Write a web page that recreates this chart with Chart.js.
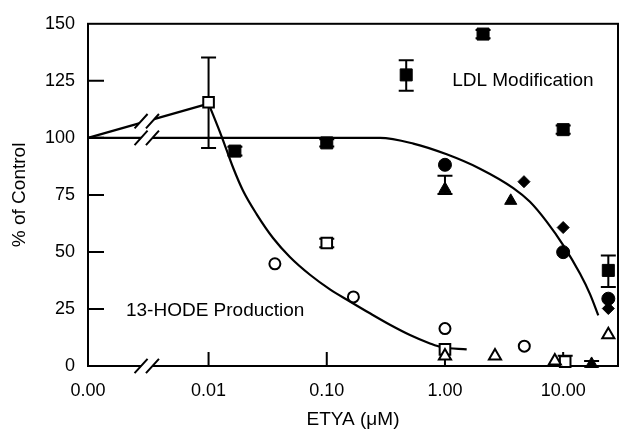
<!DOCTYPE html>
<html>
<head>
<meta charset="utf-8">
<style>
  html, body { margin: 0; padding: 0; background: #fff; }
</style>
<script src="https://cdn.jsdelivr.net/npm/chart.js@4.4.1/dist/chart.umd.min.js"></script>
</head>
<body>
<canvas id="chart" width="620" height="433"></canvas>
<script>
// broken log axis: "0.00" sits at X_ZERO, the // marks at X_BREAK
const X_ZERO = 0.000955;
const X_MAX = 29.1;
const X_BREAK = 0.003;

const xTickValues = [X_ZERO, 0.01, 0.1, 1, 10];
const xTickLabels = ['0.00', '0.01', '0.10', '1.00', '10.00'];
const yTickValues = [0, 25, 50, 75, 100, 125, 150];

// LDL modification (filled symbols)
const ldlSquareX  = [0.0167, 0.1, 0.47, 2.1, 10, 24.1];
const ldlSquareY  = [94.2, 97.8, 127.6, 145.5, 103.6, 41.9];
const ldlSquareLo = [92.3, 96.2, 120.6, 143.7, 101.8, 34.6];
const ldlSquareHi = [96.1, 99.4, 134, 147.3, 105.4, 48.4];
const ldlCircleX  = [1, 10, 24.1];
const ldlCircleY  = [88.2, 49.9, 29.5];
const ldlTriX     = [1, 3.6, 17.4];
const ldlTriY     = [77.6, 72.4, 0.9];
const ldlTriLo    = [75.4, null, -0.3];
const ldlTriHi    = [83.4, null, 2.2];
const ldlDiamondX = [4.66, 10, 24.1];
const ldlDiamondY = [80.8, 60.7, 25.2];

// 13-HODE production (open symbols)
const hodeSquareX  = [0.01, 0.1, 1, 10.4];
const hodeSquareY  = [115.6, 53.9, 7.3, 1.9];
const hodeSquareLo = [95.6, 52, null, null];
const hodeSquareHi = [135.2, 55.8, null, 4.5];
const hodeCircleX  = [0.0364, 0.168, 1, 4.69];
const hodeCircleY  = [44.8, 30.3, 16.4, 8.7];
const hodeTriX     = [1, 2.65, 8.5, 24.1];
const hodeTriY     = [4.4, 4.4, 2.2, 13.7];

// fitted curves
const ldlFitX = [X_ZERO, 0.282, 0.54, 1.034, 1.977, 3.784, 5.236, 7.251, 10, 13.87, 16.87, 19.82];
const ldlFitY = [100, 100, 97.5, 92.8, 86.5, 78, 72, 63.3, 53, 40.5, 31.5, 22.2];
const hodeLinkX = [X_ZERO, 0.01];
const hodeLinkY = [100, 115];
const hodeFitX = [0.01, 0.01288, 0.01614, 0.01963, 0.02547, 0.03524, 0.04875, 0.0721, 0.1064, 0.157, 0.2318, 0.3424, 0.5058, 0.7465, 0.9377, 1.527];
const hodeFitY = [115, 100.7, 86.9, 76.7, 66.6, 56, 47.8, 40, 33.6, 28.3, 23.1, 18.1, 13.6, 9.9, 8.2, 7.3];

const FONT = 'Liberation Sans, Arial, Helvetica, sans-serif';

function pts(xs, ys) {
    return xs.map((x, i) => ({ x: x, y: ys[i] }));
}

function marks(xs, ys, style, radius, filled, extra) {
    return Object.assign({
        data: pts(xs, ys),
        pointStyle: style,
        pointRadius: radius,
        pointBackgroundColor: filled ? '#000' : '#fff',
        pointBorderColor: '#000',
        pointBorderWidth: filled ? 1 : 2,
        showLine: false,
        clip: false,
        order: 0
    }, extra || {});
}

function curve(xs, ys, smooth) {
    return {
        data: pts(xs, ys),
        showLine: true,
        borderColor: '#000',
        borderWidth: 2.2,
        pointRadius: 0,
        cubicInterpolationMode: smooth ? 'monotone' : 'default',
        clip: false,
        order: 1
    };
}

const decorations = {
    id: 'decorations',
    beforeDatasetsDraw(chart) {
        const { ctx, chartArea: a, scales: { x, y } } = chart;
        ctx.save();
        ctx.strokeStyle = '#000';
        ctx.lineWidth = 2;
        ctx.strokeRect(a.left, a.top, a.right - a.left, a.bottom - a.top);

        // tick marks point into the plot
        ctx.beginPath();
        yTickValues.slice(1, -1).forEach(v => {
            const py = y.getPixelForValue(v);
            ctx.moveTo(a.left, py);
            ctx.lineTo(a.left + 16, py);
        });
        xTickValues.slice(1).forEach(v => {
            const px = x.getPixelForValue(v);
            ctx.moveTo(px, a.bottom);
            ctx.lineTo(px, a.bottom - 14);
        });
        ctx.stroke();

        // error bars go under the symbols
        chart.data.datasets.forEach((ds, di) => {
            if (!ds.errLo) return;
            const meta = chart.getDatasetMeta(di);
            ds.errLo.forEach((lo, i) => {
                const hi = ds.errHi[i];
                if (lo == null && hi == null) return;
                const px = meta.data[i].x;
                const w = ds.capWidth / 2;
                ctx.beginPath();
                [lo, hi].forEach(v => {
                    if (v == null) return;
                    const py = y.getPixelForValue(v);
                    ctx.moveTo(px, meta.data[i].y);
                    ctx.lineTo(px, py);
                    ctx.moveTo(px - w, py);
                    ctx.lineTo(px + w, py);
                });
                ctx.stroke();
            });
        });
        ctx.restore();
    },
    afterDatasetsDraw(chart) {
        const { ctx, chartArea: a, scales: { x, y } } = chart;
        ctx.save();

        // axis breaks: bottom axis, the 100 % line and the link to 0.01
        const bx = x.getPixelForValue(X_BREAK);
        const x0 = x.getPixelForValue(hodeLinkX[0]), x1 = x.getPixelForValue(hodeLinkX[1]);
        const y0 = y.getPixelForValue(hodeLinkY[0]), y1 = y.getPixelForValue(hodeLinkY[1]);
        const linkY = y0 + (y1 - y0) * (bx - x0) / (x1 - x0);
        [a.bottom, y.getPixelForValue(100), linkY].forEach(cy => {
            const c1 = bx - 5.7, c2 = bx + 5.7, k = 0.9, h = 4;
            ctx.fillStyle = '#fff';
            ctx.beginPath();
            ctx.moveTo(c1 + k * h, cy - h);
            ctx.lineTo(c2 + k * h, cy - h);
            ctx.lineTo(c2 - k * h, cy + h);
            ctx.lineTo(c1 - k * h, cy + h);
            ctx.closePath();
            ctx.fill();
            ctx.strokeStyle = '#000';
            ctx.lineWidth = 2;
            ctx.beginPath();
            [c1, c2].forEach(c => {
                ctx.moveTo(c - 6.5, cy + 7.2);
                ctx.lineTo(c + 6.5, cy - 7.2);
            });
            ctx.stroke();
        });

        // curve labels
        ctx.fillStyle = '#000';
        ctx.font = '19px ' + FONT;
        ctx.textAlign = 'left';
        ctx.textBaseline = 'middle';
        ctx.fillText('LDL Modification', x.getPixelForValue(1.15), y.getPixelForValue(125));
        ctx.fillText('13-HODE Production', x.getPixelForValue(0.002), y.getPixelForValue(24.4));
        ctx.restore();
    }
};

Chart.defaults.font.family = FONT;
Chart.defaults.color = '#000';

new Chart(document.getElementById('chart'), {
    type: 'scatter',
    data: {
        datasets: [
            marks(ldlSquareX, ldlSquareY, 'rect', 8.5, true, { errLo: ldlSquareLo, errHi: ldlSquareHi, capWidth: 15 }),
            marks(ldlCircleX, ldlCircleY, 'circle', 6.5, true),
            marks(ldlTriX, ldlTriY, 'triangle', 7, true, { errLo: ldlTriLo, errHi: ldlTriHi, capWidth: 15 }),
            marks(ldlDiamondX, ldlDiamondY, 'rectRot', 6, true),
            marks(hodeSquareX, hodeSquareY, 'rect', 7.5, false, { errLo: hodeSquareLo, errHi: hodeSquareHi, capWidth: 15 }),
            marks(hodeCircleX, hodeCircleY, 'circle', 5.5, false),
            marks(hodeTriX, hodeTriY, 'triangle', 7, false, { order: -1 }),
            curve(ldlFitX, ldlFitY, true),
            curve(hodeLinkX, hodeLinkY, false),
            curve(hodeFitX, hodeFitY, true)
        ]
    },
    options: {
        responsive: false,
        animation: false,
        layout: { autoPadding: false, padding: { top: 22, right: 2, left: 0, bottom: 0 } },
        plugins: { legend: { display: false }, tooltip: { enabled: false } },
        scales: {
            x: {
                type: 'logarithmic',
                min: X_ZERO,
                max: X_MAX,
                grid: { display: false, drawTicks: false },
                border: { display: false },
                afterBuildTicks(scale) {
                    scale.ticks = xTickValues.map(v => ({ value: v }));
                },
                afterFit(scale) {
                    scale.height = 67;
                    scale.paddingLeft = 0;
                    scale.paddingRight = 0;
                },
                ticks: {
                    autoSkip: false,
                    maxRotation: 0,
                    padding: 14,
                    font: { size: 18 },
                    callback: (v, i) => xTickLabels[i]
                },
                title: {
                    display: true,
                    text: 'ETYA (\u03bcM)',
                    font: { size: 19 },
                    padding: { top: 0, bottom: 1.6 }
                }
            },
            y: {
                min: 0,
                max: 150,
                grid: { display: false, drawTicks: false },
                border: { display: false },
                afterBuildTicks(scale) {
                    scale.ticks = yTickValues.map(v => ({ value: v }));
                },
                afterFit(scale) { scale.width = 88; },
                ticks: {
                    padding: 13,
                    font: { size: 18 }
                },
                title: {
                    display: true,
                    text: '% of Control',
                    font: { size: 19 },
                    padding: { top: 8.6, bottom: 0 }
                }
            }
        }
    },
    plugins: [decorations]
});
</script>
</body>
</html>
